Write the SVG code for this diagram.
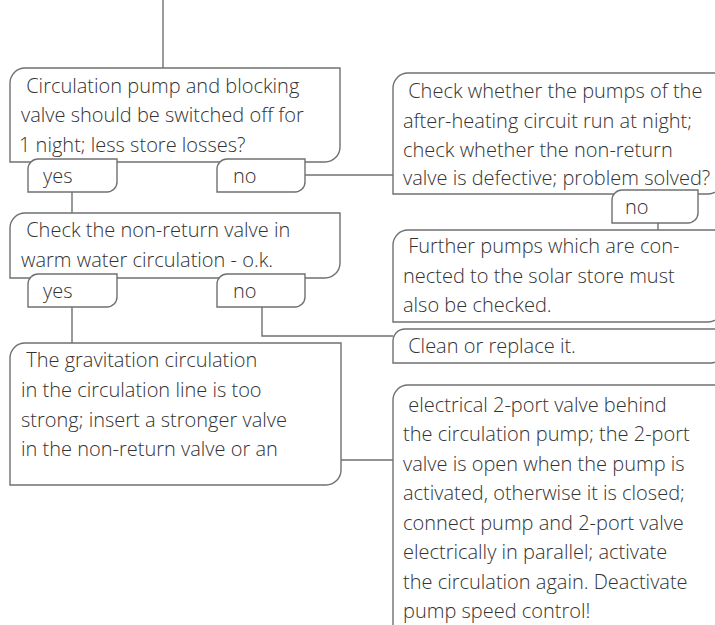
<svg xmlns="http://www.w3.org/2000/svg" width="715" height="625" viewBox="0 0 715 625">
  <style>
    .box { fill: #ffffff; stroke: #707070; stroke-width: 1.4; }
    .tab { fill: #ffffff; stroke: #707070; stroke-width: 1.4; }
    .wire { fill: none; stroke: #707070; stroke-width: 1.4; }
    text { font-family: "Open Sans", "Liberation Sans", sans-serif; font-weight: 300; font-size: 20px; fill: #333333; }
  </style>
  <rect width="715" height="625" fill="#ffffff"/>

  <!-- connectors -->
  <g id="connectors">
    <path class="wire" d="M163,0 V68"/>
    <path class="wire" d="M305,175 H393"/>
    <path class="wire" d="M658,223 V230"/>
    <path class="wire" d="M72,192 V213"/>
    <path class="wire" d="M72,307 V343"/>
    <path class="wire" d="M262,307 V336 H393"/>
    <path class="wire" d="M341,460 H393"/>
  </g>

  <!-- decision: switch off circulation -->
  <g id="q-switch-off">
    <path class="box" d="M10,162 V83 A15,15 0 0 1 25,68 H340 V147 A15,15 0 0 1 325,162 Z"/>
    <text xml:space="preserve"><tspan x="21" y="93"> Circulation pump and blocking</tspan><tspan x="21" y="122">valve should be switched off for</tspan><tspan x="19" y="152">1 night; less store losses?</tspan></text>
  </g>
  <g id="q-switch-off-yes">
    <path class="tab" d="M28,192 V169 A10,10 0 0 1 38,159 H117 V182 A10,10 0 0 1 107,192 Z"/>
    <text x="43" y="183">yes</text>
  </g>
  <g id="q-switch-off-no">
    <path class="tab" d="M217,192 V169 A10,10 0 0 1 227,159 H305 V182 A10,10 0 0 1 295,192 Z"/>
    <text x="233" y="183">no</text>
  </g>

  <!-- decision: after-heating pumps -->
  <g id="q-after-heating">
    <path class="box" d="M393,194 V88 A15,15 0 0 1 408,73 H723 V179 A15,15 0 0 1 708,194 Z"/>
    <text xml:space="preserve"><tspan x="403" y="98"> Check whether the pumps of the</tspan><tspan x="403" y="128">after-heating circuit run at night;</tspan><tspan x="403" y="157">check whether the non-return</tspan><tspan x="403" y="185">valve is defective; problem solved?</tspan></text>
  </g>
  <g id="q-after-heating-no">
    <path class="tab" d="M612,223 V200 A10,10 0 0 1 622,190 H698 V213 A10,10 0 0 1 688,223 Z"/>
    <text x="625" y="214">no</text>
  </g>

  <!-- action: further pumps -->
  <g id="a-further-pumps">
    <path class="box" d="M393,322 V245 A15,15 0 0 1 408,230 H723 V307 A15,15 0 0 1 708,322 Z"/>
    <text xml:space="preserve"><tspan x="403" y="253"> Further pumps which are con-</tspan><tspan x="403" y="283">nected to the solar store must</tspan><tspan x="403" y="312">also be checked.</tspan></text>
  </g>

  <!-- decision: non-return valve -->
  <g id="q-non-return">
    <path class="box" d="M10,278 V228 A15,15 0 0 1 25,213 H340 V263 A15,15 0 0 1 325,278 Z"/>
    <text xml:space="preserve"><tspan x="21" y="237"> Check the non-return valve in</tspan><tspan x="21" y="267">warm water circulation - o.k.</tspan></text>
  </g>
  <g id="q-non-return-yes">
    <path class="tab" d="M28,307 V284 A10,10 0 0 1 38,274 H117 V297 A10,10 0 0 1 107,307 Z"/>
    <text x="43" y="298">yes</text>
  </g>
  <g id="q-non-return-no">
    <path class="tab" d="M217,307 V284 A10,10 0 0 1 227,274 H305 V297 A10,10 0 0 1 295,307 Z"/>
    <text x="233" y="298">no</text>
  </g>

  <!-- action: clean or replace -->
  <g id="a-clean">
    <path class="box" d="M393,363 V341 A12,12 0 0 1 405,329 H723 V351 A12,12 0 0 1 711,363 Z"/>
    <text xml:space="preserve" x="403" y="353"> Clean or replace it.</text>
  </g>

  <!-- finding: gravitation circulation -->
  <g id="f-gravitation">
    <path class="box" d="M10,485 V358 A15,15 0 0 1 25,343 H341 V470 A15,15 0 0 1 326,485 Z"/>
    <text xml:space="preserve"><tspan x="21" y="367"> The gravitation circulation</tspan><tspan x="21" y="397">in the circulation line is too</tspan><tspan x="21" y="427">strong; insert a stronger valve</tspan><tspan x="21" y="456">in the non-return valve or an</tspan></text>
  </g>

  <!-- action: 2-port valve -->
  <g id="a-two-port-valve">
    <path class="box" d="M393,628 V400 A15,15 0 0 1 408,385 H723 V613 A15,15 0 0 1 708,628 Z"/>
    <text xml:space="preserve"><tspan x="403" y="412"> electrical 2-port valve behind</tspan><tspan x="403" y="441">the circulation pump; the 2-port</tspan><tspan x="403" y="471">valve is open when the pump is</tspan><tspan x="403" y="500">activated, otherwise it is closed;</tspan><tspan x="403" y="530">connect pump and 2-port valve</tspan><tspan x="403" y="559">electrically in parallel; activate</tspan><tspan x="403" y="589">the circulation again. Deactivate</tspan><tspan x="403" y="618">pump speed control!</tspan></text>
  </g>
</svg>
